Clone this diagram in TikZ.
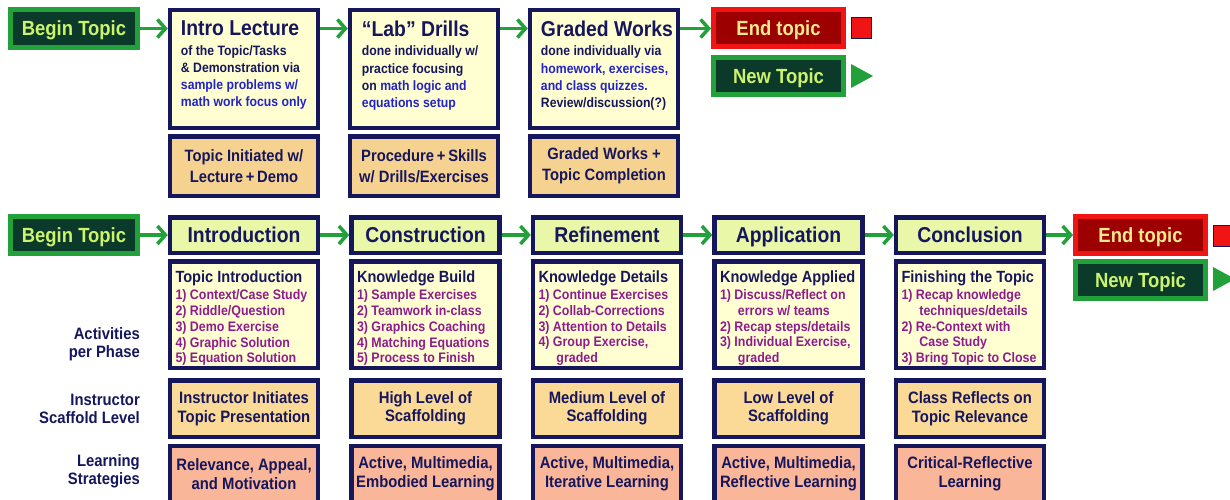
\documentclass[tikz,border=0pt]{standalone}
\usepackage{fontspec}
\setmainfont{Liberation Sans}[FakeStretch=0.9]
\usepackage{tikz}
\usetikzlibrary{arrows.meta, positioning}

\definecolor{navy}{HTML}{16165C}
\definecolor{inkblue}{HTML}{2323C8}
\definecolor{plum}{HTML}{8E1C8E}
\definecolor{cream}{HTML}{FFFFD2}
\definecolor{tanbox}{HTML}{F6D290}
\definecolor{lime}{HTML}{E9F7A8}
\definecolor{peach}{HTML}{FBDA98}
\definecolor{salmon}{HTML}{F9B698}
\definecolor{leaf}{HTML}{22A03A}
\definecolor{pine}{HTML}{0C3A2A}
\definecolor{chartreuse}{HTML}{CDF36C}
\definecolor{scarlet}{HTML}{F01414}
\definecolor{darkred}{HTML}{9C0000}
\definecolor{butter}{HTML}{F6EA8E}

\begin{document}
\begin{tikzpicture}[x=1pt, y=-1pt, font=\bfseries,
  box/.style={draw=navy, line width=4.5pt, minimum width=148pt, inner sep=0pt,
              text=navy, align=center},
  lect/.style={box, fill=cream, minimum height=117.5pt},
  note/.style={box, fill=tanbox, minimum height=59.5pt, font=\fontsize{16.4}{20.5}\selectfont\bfseries},
  phase/.style={box, fill=lime, minimum height=35.5pt, text height=15.5pt, text depth=0pt,
                font=\fontsize{21.5}{24}\selectfont\bfseries},
  acts/.style={box, fill=cream, minimum height=106.5pt, text width=137pt, align=flush left,
               font=\fontsize{13.8}{15.8}\selectfont\bfseries},
  scaf/.style={box, fill=peach, minimum height=56.5pt, font=\fontsize{16.5}{18.5}\selectfont\bfseries},
  strat/.style={scaf, fill=salmon, minimum height=56pt},
  go/.style={draw=leaf, fill=pine, line width=5pt, minimum width=127pt, minimum height=37pt,
             inner sep=0pt, text height=15pt, text depth=0pt, text=chartreuse,
             font=\fontsize{20.5}{24}\selectfont\bfseries},
  halt/.style={go, draw=scarlet, fill=darkred, text=butter, minimum width=130pt},
  uptext/.style={anchor=north west, text width=140pt, align=flush left, inner sep=0pt, text=navy,
                 font=\fontsize{13.6}{17.3}\selectfont\bfseries},
  side/.style={anchor=east, align=right, inner sep=0pt, text=navy,
               font=\fontsize{16.5}{18}\selectfont\bfseries},
  arr/.style={-{Straight Barb[length=8pt, width=18pt]}, draw=leaf, line width=3.5pt}
]
\path[use as bounding box, fill=white] (0,0) rectangle (1230,500);
\clip (0,0) rectangle (1230,500);

% old sequence
\node[go, minimum height=38pt] (beg1) at (74,28.5) {Begin Topic};
\node[lect] (intro) at (244,69) {};
\node[lect] (lab)   at (424,69) {};
\node[lect] (grad)  at (604,69) {};

\node[uptext] (introtxt) at ([xshift=13pt, yshift=-12.5pt]intro.north west)
  {{\fontsize{21.5}{24}\selectfont Intro Lecture}\\[2.3pt]
   of the Topic/Tasks\\ \& Demonstration via\\
   \textcolor{inkblue}{sample problems w/}\\ \textcolor{inkblue}{math work focus only}};
\node[uptext] (labtxt) at ([xshift=14pt, yshift=-12.5pt]lab.north west)
  {{\fontsize{21.5}{24}\selectfont ``Lab'' Drills}\\[2.3pt]
   done individually w/\\ practice focusing\\
   on \textcolor{inkblue}{math logic and}\\ \textcolor{inkblue}{equations setup}};
\node[uptext] (gradtxt) at ([xshift=13pt, yshift=-12.5pt]grad.north west)
  {{\fontsize{21.5}{24}\selectfont Graded Works}\\[2.3pt]
   done individually via\\ \textcolor{inkblue}{homework, exercises,}\\
   \textcolor{inkblue}{and class quizzes.}\\ Review/discussion(?)};

\node[note] (intronote) at (244,166) {Topic Initiated w/\\Lecture\,+\,Demo};
\node[note] (labnote)   at (424,166) {Procedure\,+\,Skills\\w/ Drills/Exercises};
\node[note] (gradnote)  at (604,166) {Graded Works +\\Topic Completion};

\node[halt] (end1) at (778.5,28.5) {End topic};
\node[go, minimum width=130pt] (new1) at (778.5,76) {New Topic};
\draw[navy, fill=scarlet, line width=1pt] (851,18) rectangle (871,39);
\fill[leaf] (851,64) -- (873,76) -- (851,88) -- cycle;

\draw[arr] (beg1) -- (beg1 -| intro.west);
\draw[arr] (intro.east |- beg1) -- (lab.west |- beg1);
\draw[arr] (lab.east |- beg1) -- (grad.west |- beg1);
\draw[arr] (grad.east |- beg1) -- (end1);

% new sequence
\node[go] (beg2) at (74,235) {Begin Topic};
\node[phase] (intr) at (244,235)   {Introduction};
\node[phase] (cons) at (425.5,235) {Construction};
\node[phase] (refi) at (607,235)   {Refinement};
\node[phase] (appl) at (788.5,235) {Application};
\node[phase] (conc) at (970,235)   {Conclusion};
\node[halt] (end2) at (1140.5,235) {End topic};
\node[go, minimum width=130pt] (new2) at (1140.5,279.5) {New Topic};
\draw[navy, fill=scarlet, line width=1pt] (1213,225) rectangle (1233,246);
\fill[leaf] (1213,267) -- (1235,279) -- (1213,291) -- cycle;

\foreach \a/\b in {beg2/intr, intr/cons, cons/refi, refi/appl, appl/conc, conc/end2}
  \draw[arr] (\a) -- (\b);

\node[acts] (intract) at (244,314.5)
  {\rule{0pt}{19pt}{\fontsize{16.2}{18}\selectfont Topic Introduction}\\[1.5pt]\color{plum}
   1) Context/Case Study\\ 2) Riddle/Question\\ 3) Demo Exercise\\
   4) Graphic Solution\\ 5) Equation Solution};
\node[acts] (consact) at (425.5,314.5)
  {\rule{0pt}{19pt}{\fontsize{16.2}{18}\selectfont Knowledge Build}\\[1.5pt]\color{plum}
   1) Sample Exercises\\ 2) Teamwork in-class\\ 3) Graphics Coaching\\
   4) Matching Equations\\ 5) Process to Finish};
\node[acts] (refiact) at (607,314.5)
  {\rule{0pt}{19pt}{\fontsize{16.2}{18}\selectfont Knowledge Details}\\[1.5pt]\color{plum}
   1) Continue Exercises\\ 2) Collab-Corrections\\ 3) Attention to Details\\
   4) Group Exercise,\\ \hspace*{1.3em}graded};
\node[acts] (applact) at (788.5,314.5)
  {\rule{0pt}{19pt}{\fontsize{16.2}{18}\selectfont Knowledge Applied}\\[1.5pt]\color{plum}
   1) Discuss/Reflect on\\ \hspace*{1.3em}errors w/ teams\\ 2) Recap steps/details\\
   3) Individual Exercise,\\ \hspace*{1.3em}graded};
\node[acts] (concact) at (970,314.5)
  {\rule{0pt}{19pt}{\fontsize{16.2}{18}\selectfont Finishing the Topic}\\[1.5pt]\color{plum}
   1) Recap knowledge\\ \hspace*{1.3em}techniques/details\\ 2) Re-Context with\\
   \hspace*{1.3em}Case Study\\ 3) Bring Topic to Close};

\node[scaf] (intrscaf) at (244,408.5)   {Instructor Initiates\\Topic Presentation};
\node[scaf] (consscaf) at (425.5,408.5) {High Level of\\Scaffolding};
\node[scaf] (refiscaf) at (607,408.5)   {Medium Level of\\Scaffolding};
\node[scaf] (applscaf) at (788.5,408.5) {Low Level of\\Scaffolding};
\node[scaf] (concscaf) at (970,408.5)   {Class Reflects on\\Topic Relevance};

\node[strat] (intrstrat) at (244,474)   {Relevance, Appeal,\\and Motivation};
\node[strat] (consstrat) at (425.5,474) {Active, Multimedia,\\Embodied Learning};
\node[strat] (refistrat) at (607,474)   {Active, Multimedia,\\Iterative Learning};
\node[strat] (applstrat) at (788.5,474) {Active, Multimedia,\\Reflective Learning};
\node[strat] (concstrat) at (970,474)   {Critical-Reflective\\Learning};

\node[side] (actlbl)   at (140,344) {Activities\\per Phase};
\node[side] (scaflbl)  at (140,409) {Instructor\\Scaffold Level};
\node[side] (stratlbl) at (140,471) {Learning\\Strategies};
\end{tikzpicture}
\end{document}
